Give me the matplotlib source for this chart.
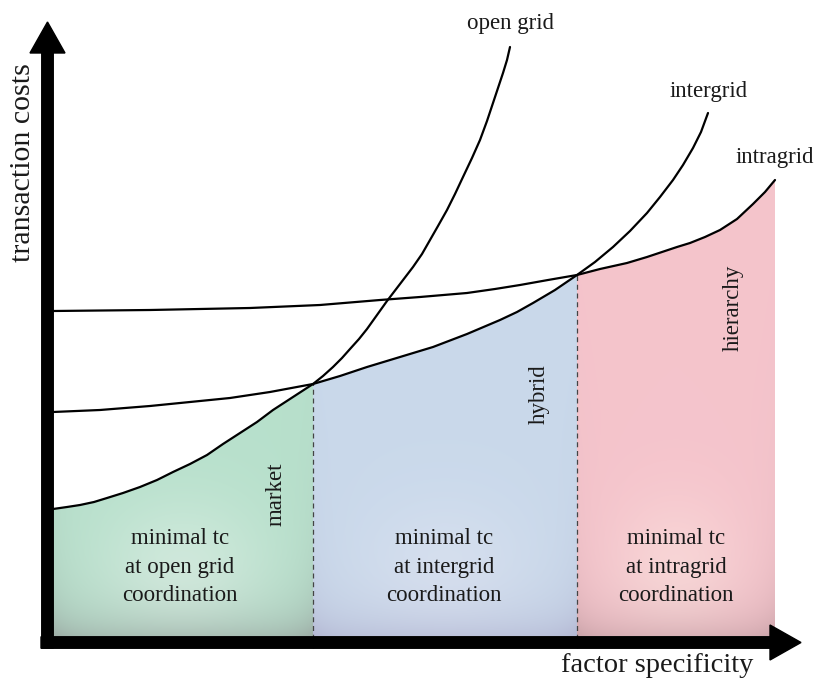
import numpy as np
import matplotlib.pyplot as plt
from matplotlib.patches import FancyArrow, Polygon

plt.rcParams['font.family'] = ['Liberation Serif', 'DejaVu Serif']

# curves: x = factor specificity, y = transaction costs
open_x = [0, 14, 27, 41, 54, 70, 87, 104, 120, 137, 154, 170, 187, 204, 220, 240, 260,
          270, 280, 289, 297, 306, 314, 324, 334, 347, 360, 369, 377, 385, 394, 402,
          410, 419, 427, 434, 440, 445, 450, 454, 457]
open_y = [127, 129, 131, 134, 138, 143, 149, 156, 164, 172, 181, 192, 203, 214, 226, 239, 252,
          260, 269, 278, 287, 297, 307, 321, 335, 352, 369, 382, 396, 410, 426, 442,
          459, 478, 496, 515, 533, 548, 563, 576, 589]

inter_x = [0, 47, 97, 127, 177, 217, 260, 287, 314, 347, 380, 414, 447, 464, 480, 502, 524,
           542, 560, 577, 594, 607, 620, 630, 640, 648, 655]
inter_y = [224, 226, 230, 233, 238, 244, 252, 260, 269, 279, 289, 302, 316, 324, 333, 346, 361,
           374, 389, 405, 423, 439, 456, 471, 488, 504, 523]

intra_x = [0, 97, 197, 267, 327, 367, 414, 442, 467, 495, 524, 547, 574, 594, 609, 624, 637,
           652, 667, 684, 700, 712, 722]
intra_y = [325, 326, 328, 331, 336, 339, 343, 347, 351, 356, 361, 367, 373, 379, 384, 389, 393,
           399, 406, 417, 432, 444, 456]

# where the cheapest coordination form changes
cross_x = [260, 524]
cross_y = [252, 361]

curve_names = ["open grid", "intergrid", "intragrid"]
region_text = ["minimal tc\nat open grid\ncoordination",
               "minimal tc\nat intergrid\ncoordination",
               "minimal tc\nat intragrid\ncoordination"]
region_names = ["market", "hybrid", "hierarchy"]


def shade(ax, xs, ys, top, light, dark):
    """fill area under a curve with a soft gradient, clipped to the curve"""
    xs = np.asarray(xs, float)
    ys = np.asarray(ys, float)
    x0, x1 = xs[0], xs[-1]
    ytop = ys.max()
    verts = [(x0, 0)] + list(zip(xs, ys)) + [(x1, 0)]
    poly = Polygon(verts, closed=True, facecolor="none", edgecolor="none",
                   transform=ax.transData)
    gx = np.linspace(x0, x1, 240)
    gy = np.linspace(0, ytop, 240)
    X, Y = np.meshgrid(gx, gy)
    w = x1 - x0
    cx = (x0 + x1) / 2
    hl = np.exp(-((X - cx) / (0.33 * w)) ** 2 - ((Y - 60) / 75) ** 2)
    a = (0.55 * hl)[..., None]
    img = np.array(top) * (1 - a) + np.array(light) * a
    edge = np.minimum(X - x0, x1 - X)
    d = 0.5 * np.exp(-Y / 25) + 0.25 * np.exp(-edge / 18) * np.exp(-Y / 110)
    d = np.clip(d, 0, 0.7)[..., None]
    img = img * (1 - d) + np.array(dark) * d
    im = ax.imshow(img, extent=(x0, x1, 0, ytop), origin="lower",
                   aspect="auto", interpolation="bilinear", zorder=1)
    im.set_clip_path(poly)


fig = plt.figure(figsize=(8.17, 6.81), dpi=100)
ax = fig.add_axes([0, 0, 1, 1])
ax.set_xlim(-53, 764)
ax.set_ylim(-45, 636)
ax.axis("off")

# shaded regions under the minimal envelope
ox, oy = np.array(open_x), np.array(open_y)
m = ox <= cross_x[0]
shade(ax, ox[m], oy[m], (0.72, 0.88, 0.80), (0.90, 0.95, 0.92), (0.58, 0.61, 0.60))
ix, iy = np.array(inter_x), np.array(inter_y)
m = (ix >= cross_x[0]) & (ix <= cross_x[1])
shade(ax, ix[m], iy[m], (0.79, 0.85, 0.92), (0.88, 0.90, 0.95), (0.68, 0.68, 0.80))
rx, ry = np.array(intra_x), np.array(intra_y)
m = rx >= cross_x[1]
shade(ax, rx[m], ry[m], (0.96, 0.77, 0.80), (0.99, 0.90, 0.88), (0.74, 0.60, 0.62))

# dashed borders between regions
for cx, cy in zip(cross_x, cross_y):
    ax.plot([cx, cx], [-12, cy], color="#444444", lw=0.9, ls=(0, (4, 3)), zorder=2)

# cost curves
for xs, ys in [(open_x, open_y), (inter_x, inter_y), (intra_x, intra_y)]:
    ax.plot(xs, ys, color="black", lw=1.6, zorder=3, solid_capstyle="round",
            solid_joinstyle="round")

# thick axis arrows
ax.add_patch(FancyArrow(-5.5, -12, 0, 626, width=11.5, head_width=35, head_length=31,
                        length_includes_head=True, color="black", zorder=4))
ax.add_patch(FancyArrow(-12, -6.5, 760, 0, width=11.5, head_width=35, head_length=31,
                        length_includes_head=True, color="black", zorder=4))

tc = "#1a1a1a"
ax.text(-30, 473, "transaction costs", rotation=90, ha="center", va="center",
        fontsize=21.5, color=tc)
ax.text(700, -29, "factor specificity", ha="right", va="center", fontsize=20.5, color=tc)

# curve labels
ax.text(458, 612, curve_names[0], ha="center", va="center", fontsize=16.5, color=tc)
ax.text(656, 545, curve_names[1], ha="center", va="center", fontsize=16.5, color=tc)
ax.text(722, 478, curve_names[2], ha="center", va="center", fontsize=16.5, color=tc)

# region texts
for x, s in zip([127, 391, 623], region_text):
    ax.text(x, 69, s, ha="center", va="center", fontsize=16.5, color=tc, linespacing=1.45,
            zorder=5)
for x, y, s in zip([223, 486, 680], [142, 242, 328], region_names):
    ax.text(x, y, s, rotation=90, ha="center", va="center", fontsize=16.5, color=tc, zorder=5)

fig.savefig("out.png", dpi=100)
